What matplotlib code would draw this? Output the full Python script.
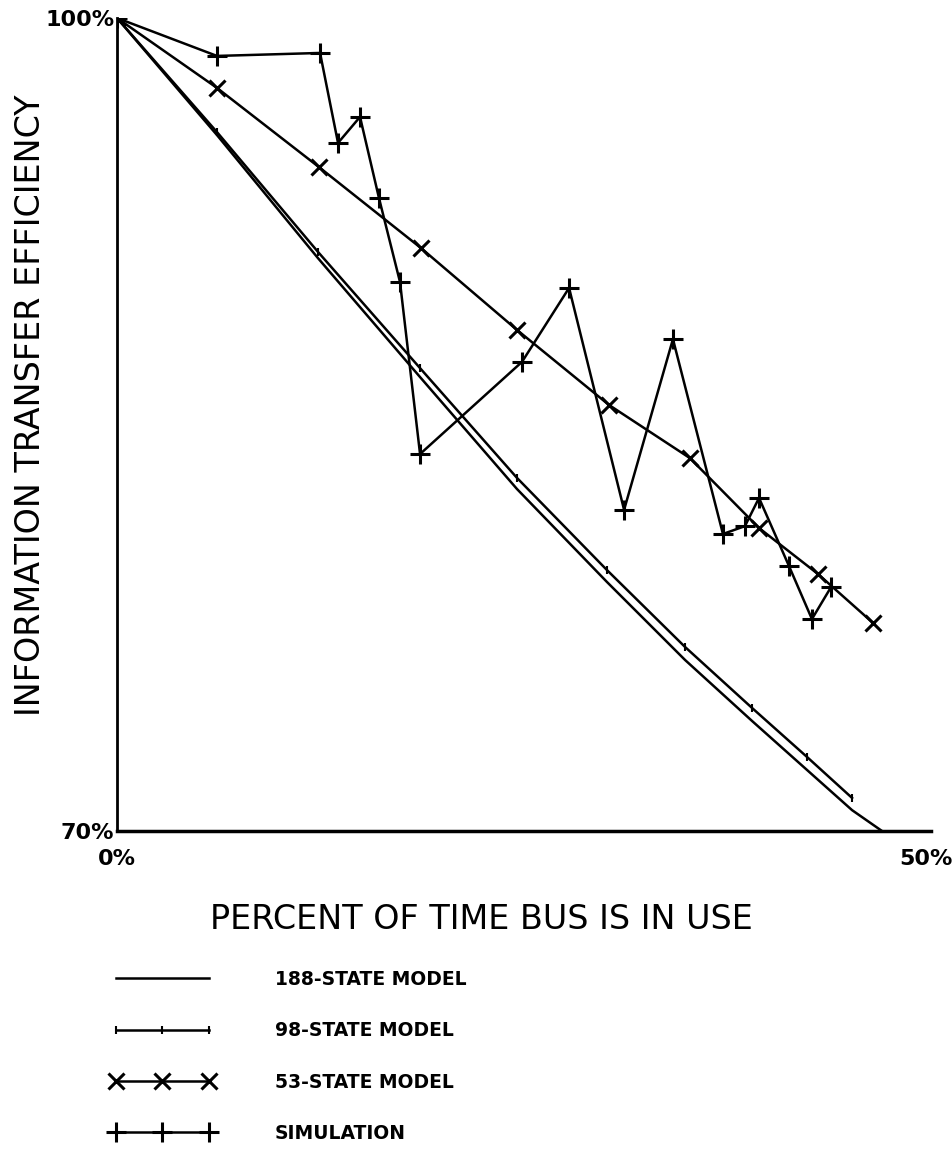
import matplotlib.pyplot as plt

# values (percent bus use, percent efficiency)
x_188 = [0, 6.18, 12.42, 18.73, 24.72, 30.28, 35.11, 39.25, 42.65, 45.43, 47.28]
y_188 = [100, 95.68, 91.14, 86.75, 82.62, 79.19, 76.31, 74.06, 72.25, 70.77, 70.0]

x_98 = [0, 6.18, 12.42, 18.73, 24.72, 30.28, 35.11, 39.25, 42.65, 45.43]
y_98 = [100, 95.79, 91.37, 87.08, 83.03, 79.63, 76.79, 74.54, 72.73, 71.22]

x_53 = [0, 6.18, 12.48, 18.79, 24.72, 30.41, 35.41, 39.68, 43.33, 46.72]
y_53 = [100, 97.42, 94.50, 91.51, 88.49, 85.72, 83.76, 81.18, 79.48, 77.68]

x_sim = [0, 6.18, 12.55, 13.66, 15.02, 16.19, 17.49, 18.73, 25.03, 27.94,
         31.34, 34.36, 37.45, 38.81, 39.68, 41.53, 42.95, 44.13]
y_sim = [100, 98.60, 98.71, 95.39, 96.35, 93.36, 90.26, 83.91, 87.31, 90.04,
         81.85, 88.15, 80.96, 81.25, 82.29, 79.78, 77.82, 79.00]

labels = ["188-STATE MODEL", "98-STATE MODEL", "53-STATE MODEL", "SIMULATION"]

plt.rcParams["font.family"] = ["DejaVu Sans"]

fig = plt.figure(figsize=(9.53, 11.5), dpi=100)
ax = fig.add_axes([117 / 953, 1 - 831 / 1150, (926 - 117) / 953, (831 - 18) / 1150])

lw = 1.8
l1, = ax.plot(x_188, y_188, color="black", lw=lw)
l2, = ax.plot(x_98, y_98, color="black", lw=lw, marker="|", markersize=6, mew=1.5)
l3, = ax.plot(x_53, y_53, color="black", lw=lw, marker="x", markersize=12, mew=2.2)
l4, = ax.plot(x_sim, y_sim, color="black", lw=lw, marker="+", markersize=14, mew=2.2)

ax.set_xlim(0, 50)
ax.set_ylim(70, 100)
for side in ["top", "right"]:
    ax.spines[side].set_visible(False)
ax.spines["left"].set_linewidth(2)
ax.spines["bottom"].set_linewidth(2.5)
ax.spines["bottom"].set_bounds(0, 50.3)

ax.set_xticks([0, 50])
ax.set_xticklabels(["0%", "50%"], fontsize=16, fontweight="bold")
ax.set_yticks([70, 100])
ax.set_yticklabels(["70%", "100%"], fontsize=16, fontweight="bold")
ax.tick_params(axis="x", length=0, pad=13)
ax.tick_params(axis="y", length=0, pad=2)

ax.set_xlabel("PERCENT OF TIME BUS IS IN USE", fontsize=24)
ax.xaxis.set_label_coords((481 - 117) / 809, -(903 - 831) / 813)
ax.set_ylabel("INFORMATION TRANSFER EFFICIENCY", fontsize=24)
ax.yaxis.set_label_coords(-(117 - 47) / 809, (831 - 405) / 813)

fig.legend([l1, l2, l3, l4], labels, loc="upper left",
           bbox_to_anchor=(110 / 953, 1 - 970 / 1150), frameon=False,
           numpoints=3, prop={"weight": "bold", "size": 13.5},
           handlelength=5.6, handletextpad=3.2, labelspacing=1.72,
           borderpad=0, borderaxespad=0)

fig.savefig("out.png", dpi=100)
